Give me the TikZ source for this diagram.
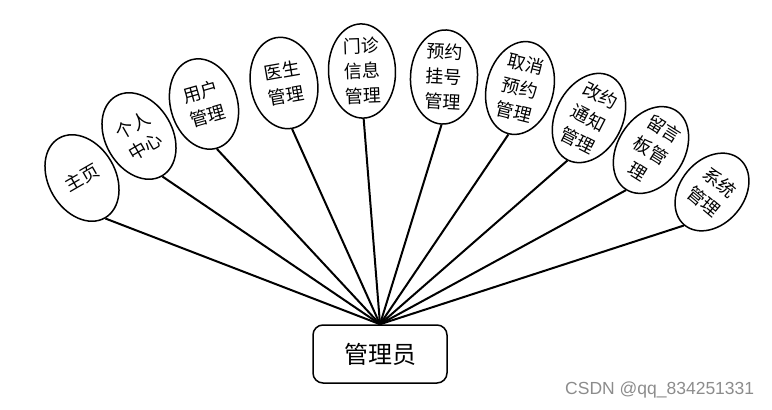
\documentclass[tikz,border=0pt]{standalone}
\usepackage{fontspec}
\newfontfamily\cjk{Noto Sans CJK SC}
\newfontfamily\wmfont{Liberation Sans}
\usetikzlibrary{shapes.geometric}
\tikzset{
  item/.style={ellipse, draw=black, line width=1.5pt, minimum width=67pt, minimum height=92pt,
    inner sep=0pt, align=center, font=\cjk\fontsize{18}{25}\selectfont, fill=white},
  hubbox/.style={draw=black, line width=1.5pt, rounded corners=10pt, minimum width=134pt,
    minimum height=58pt, inner sep=0pt, font=\cjk\fontsize{24}{28}\selectfont, fill=white},
  link/.style={line width=2pt, black},
  watermark/.style={font=\wmfont\fontsize{17.5}{20}\selectfont, text=black!45, inner sep=0pt, anchor=west}
}
\begin{document}
\begin{tikzpicture}[x=1pt, y=-1pt]
\useasboundingbox (0,0) rectangle (772,410);
\node[hubbox] (hub) at (380,354) {管理员};
\node[item, rotate=30] (e1) at (82,178) {主页};
\node[item, rotate=30] (e2) at (139,136) {个人\\中心};
\node[item, rotate=16] (e3) at (204,104) {用户\\管理};
\node[item, rotate=10] (e4) at (284,83) {医生\\管理};
\node[item, rotate=2] (e5) at (362,71) {门诊\\信息\\管理};
\node[item, rotate=-3] (e6) at (444,77) {预约\\挂号\\管理};
\node[item, rotate=-14] (e7) at (520,88) {取消\\预约\\管理};
\node[item, rotate=-27] (e8) at (589,118) {改约\\通知\\管理};
\node[item, rotate=-32] (e9) at (651,150) {留言\\板管\\理};
\node[item, rotate=-40, minimum width=64pt, minimum height=86pt] (e10) at (712,192) {系统\\管理};
\foreach \i in {1,...,10} {
  \draw[link] (e\i.south) -- (hub.north);
}
\node[watermark] (wm) at (565,390) {CSDN @qq\_834251331};
\end{tikzpicture}
\end{document}
